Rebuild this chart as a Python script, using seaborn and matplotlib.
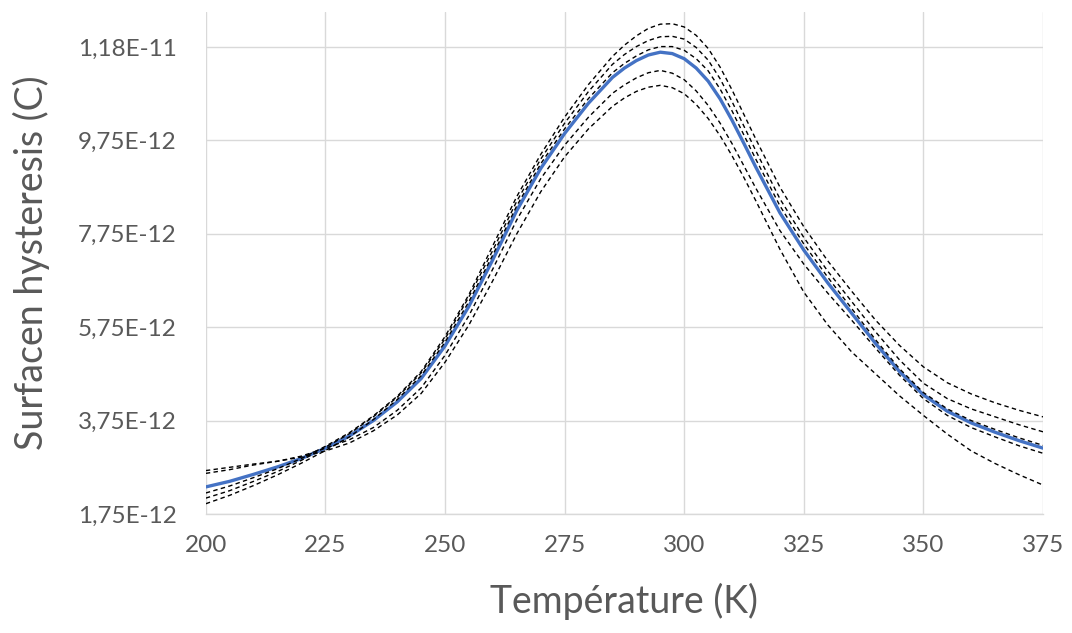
import numpy as np
import pandas as pd
import matplotlib
matplotlib.use("Agg")
import matplotlib.pyplot as plt
import seaborn as sns
from matplotlib.ticker import FuncFormatter, FixedLocator

# ---- data (values in units of 1e-12 C) ----
temperature = [200, 205, 210, 215, 220, 225, 230, 235, 240, 245,
               250, 255, 260, 265, 270, 275, 280, 285,
               287.5, 290, 292.5, 295, 297.5, 300, 302.5, 305, 307.5, 310,
               312.5, 315,
               320, 325, 330, 335, 340, 345, 350, 355, 360, 365, 370, 375]

mean_curve = [2.33, 2.45, 2.60, 2.76, 2.94, 3.16, 3.42, 3.75, 4.15, 4.65,
              5.35, 6.20, 7.20, 8.25, 9.15, 9.90, 10.55, 11.10,
              11.30, 11.46, 11.58, 11.64, 11.61, 11.50, 11.30, 11.02, 10.64, 10.18,
              9.68, 9.17,
              8.20, 7.40, 6.70, 6.05, 5.40, 4.80, 4.30, 3.95, 3.70, 3.50, 3.32, 3.16]

run_1 = [2.20, 2.35, 2.53, 2.72, 2.94, 3.20, 3.49, 3.85, 4.27, 4.80,
         5.55, 6.45, 7.50, 8.55, 9.45, 10.25, 10.95, 11.55,
         11.79, 11.99, 12.15, 12.24, 12.25, 12.18, 12.00, 11.72, 11.32, 10.83,
         10.30, 9.77,
         8.75, 7.90, 7.17, 6.52, 5.90, 5.36, 4.90, 4.56, 4.32, 4.13, 3.97, 3.83]

run_2 = [2.09, 2.25, 2.45, 2.66, 2.90, 3.18, 3.47, 3.83, 4.25, 4.77,
         5.50, 6.40, 7.40, 8.45, 9.35, 10.12, 10.80, 11.38,
         11.59, 11.76, 11.89, 11.97, 11.98, 11.92, 11.74, 11.47, 11.07, 10.58,
         10.05, 9.52,
         8.50, 7.67, 6.95, 6.30, 5.65, 5.05, 4.55, 4.22, 4.00, 3.83, 3.66, 3.51]

run_3 = [1.97, 2.15, 2.36, 2.59, 2.84, 3.11, 3.40, 3.77, 4.20, 4.71,
         5.43, 6.30, 7.30, 8.35, 9.25, 10.00, 10.65, 11.20,
         11.40, 11.56, 11.69, 11.76, 11.76, 11.68, 11.50, 11.24, 10.85, 10.38,
         9.86, 9.34,
         8.35, 7.53, 6.82, 6.15, 5.48, 4.86, 4.35, 4.00, 3.75, 3.56, 3.38, 3.22]

run_4 = [2.62, 2.70, 2.80, 2.88, 2.99, 3.16, 3.34, 3.60, 3.97, 4.45,
         5.15, 6.00, 7.00, 8.05, 8.93, 9.65, 10.25, 10.76,
         10.94, 11.09, 11.20, 11.25, 11.19, 11.05, 10.81, 10.50, 10.12, 9.68,
         9.20, 8.72,
         7.82, 7.10, 6.48, 5.90, 5.30, 4.72, 4.22, 3.86, 3.60, 3.40, 3.21, 3.05]

run_5 = [2.68, 2.75, 2.82, 2.88, 2.97, 3.10, 3.27, 3.53, 3.87, 4.33,
         5.00, 5.80, 6.75, 7.75, 8.65, 9.40, 10.00, 10.48,
         10.66, 10.80, 10.89, 10.93, 10.88, 10.75, 10.52, 10.22, 9.85, 9.42,
         8.95, 8.45,
         7.42, 6.50, 5.80, 5.22, 4.75, 4.28, 3.86, 3.46, 3.10, 2.83, 2.59, 2.37]

x_ticks = [200, 225, 250, 275, 300, 325, 350, 375]
y_ticks = [1.75e-12, 3.75e-12, 5.75e-12, 7.75e-12, 9.75e-12, 1.175e-11]

x_label = "Température (K)"
y_label = "Surfacen hysteresis (C)"

# ---- figure ----
sns.set_theme(style="white")
plt.rcParams['font.family'] = ['Lato', 'DejaVu Sans']

fig = plt.figure(figsize=(10.72, 6.33), dpi=100)
ax = fig.add_axes([0.192, 0.188, 0.781, 0.793])

T = np.array(temperature)
scale = 1e-12

sns.lineplot(x=T, y=np.array(mean_curve) * scale, ax=ax, color="#4472C4",
             linewidth=2.4, zorder=3)
for run in [run_1, run_2, run_3, run_4, run_5]:
    sns.lineplot(x=T, y=np.array(run) * scale, ax=ax, color="black",
                 linewidth=1.0, linestyle=(0, (3.2, 2.4)), zorder=4)

ax.set_xlim(200, 375)
ax.set_ylim(1.75e-12, 1.25e-11)
ax.xaxis.set_major_locator(FixedLocator(x_ticks))
ax.yaxis.set_major_locator(FixedLocator(y_ticks))


def fmt_y(v, pos):
    s = "%.2E" % (v * (1 + 1e-9))
    return s.replace(".", ",")


ax.yaxis.set_major_formatter(FuncFormatter(fmt_y))
ax.grid(True, color="#D9D9D9", linewidth=1.0)
ax.set_axisbelow(True)
for side in ["top", "right", "left"]:
    ax.spines[side].set_visible(False)
ax.spines["bottom"].set_color("#D9D9D9")
ax.spines["bottom"].set_linewidth(1.0)

ax.tick_params(axis="both", length=0, colors="#595959", labelsize=17.5)
ax.tick_params(axis="y", pad=21)
ax.tick_params(axis="x", pad=15)

ax.set_xlabel(x_label, fontsize=27, color="#595959")
ax.set_ylabel(y_label, fontsize=27, color="#595959")
ax.xaxis.set_label_coords(0.5, -0.175)
ax.xaxis.label.set_va("center")
ax.yaxis.set_label_coords(-0.208, 0.5)
ax.yaxis.label.set_va("center")

fig.savefig("out.png", dpi=100, facecolor="white")
